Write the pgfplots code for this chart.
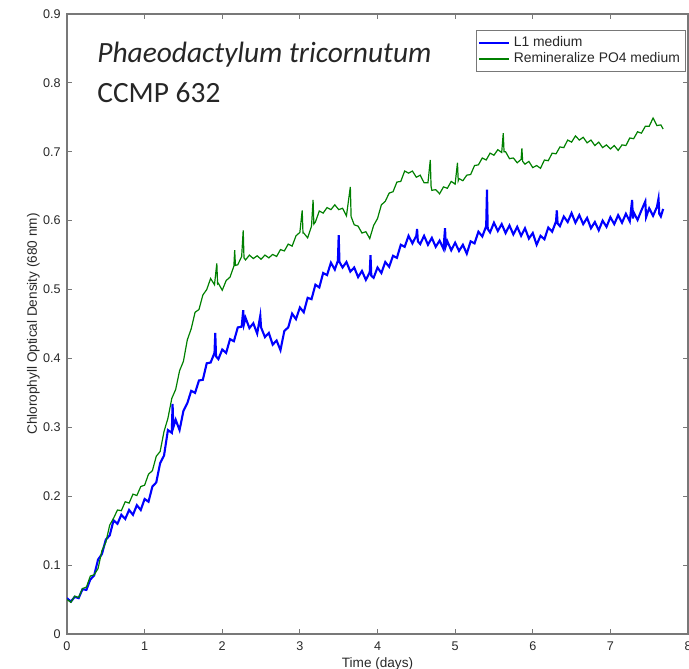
\documentclass[border=0pt]{standalone}
\usepackage{pgfplots}
\pgfplotsset{compat=1.18}
\usepackage{fontspec}
\setmainfont{Liberation Sans}
\newfontfamily\calibri{Carlito}
\definecolor{mblue}{RGB}{0,0,255}
\definecolor{mgreen}{RGB}{0,128,0}
\definecolor{axgray}{RGB}{120,120,120}
\definecolor{txtgray}{RGB}{40,40,40}
\begin{document}
\begin{tikzpicture}
\begin{axis}[
  width=310.5pt, height=310pt, scale only axis,
  xmin=0, xmax=8, ymin=0, ymax=0.9,
  xtick={0,1,...,8}, ytick={0,0.1,...,0.9},
  tick align=inside, major tick length=2.5pt,
  axis line style={axgray, line width=0.7pt},
  tick style={axgray, line width=0.5pt},
  /pgf/number format/assume math mode=true,
  /pgf/number format/fixed, /pgf/number format/precision=1,
  ticklabel style={font=\fontsize{6.3}{7.5}\selectfont, text=txtgray},
  yticklabel style={inner sep=0pt, xshift=-3pt},
  xticklabel style={inner sep=0pt, yshift=-3.5pt},
  xlabel={Time (days)},
  ylabel={Chlorophyll Optical Density (680 nm)},
  label style={font=\fontsize{6.8}{8}\selectfont, text=txtgray, inner sep=0pt},
  xlabel style={at={(axis description cs:0.5,-0.037)}, anchor=north},
  ylabel style={at={(axis description cs:-0.0435,0.5)}, anchor=south, rotate=0},
  legend style={at={(1,1)}, anchor=north east, xshift=-1pt, yshift=-8pt,
    font=\fontsize{6.95}{7.5}\selectfont, draw=axgray, line width=0.5pt,
    inner sep=0.8pt, row sep=-2.3pt, text=txtgray},
  legend cell align=left,
  legend image code/.code={\draw[#1, line width=1pt] (0pt,0pt) -- (15pt,0pt);},
]
\addplot[mblue, line width=1.05pt] coordinates {
(0.00,0.052)(0.05,0.047)(0.10,0.054)(0.15,0.052)(0.20,0.065)(0.25,0.064)(0.30,0.079)(0.35,0.085)(0.40,0.108)(0.45,0.116)
(0.50,0.137)(0.55,0.143)(0.60,0.165)(0.65,0.160)(0.70,0.173)(0.75,0.167)(0.80,0.180)(0.85,0.173)(0.90,0.187)(0.95,0.180)
(1.00,0.196)(1.05,0.192)(1.10,0.214)(1.15,0.220)(1.20,0.248)(1.25,0.259)(1.30,0.296)(1.35,0.292)(1.36,0.334)(1.37,0.300)(1.40,0.311)(1.45,0.296)
(1.50,0.324)(1.55,0.335)(1.60,0.353)(1.65,0.350)(1.70,0.368)(1.75,0.369)(1.80,0.393)(1.85,0.394)(1.90,0.408)(1.91,0.437)(1.92,0.403)(1.95,0.399)
(2.00,0.413)(2.05,0.408)(2.10,0.428)(2.15,0.425)(2.20,0.445)(2.25,0.446)(2.27,0.470)(2.28,0.450)(2.30,0.459)(2.35,0.444)(2.40,0.451)(2.45,0.436)(2.49,0.462)(2.50,0.445)
(2.55,0.431)(2.60,0.437)(2.65,0.420)(2.70,0.426)(2.75,0.412)(2.80,0.440)(2.85,0.445)(2.90,0.465)(2.95,0.457)
(3.00,0.474)(3.05,0.467)(3.10,0.488)(3.15,0.486)(3.20,0.507)(3.25,0.503)(3.30,0.524)(3.35,0.521)(3.40,0.539)(3.45,0.529)
(3.49,0.542)(3.50,0.579)(3.51,0.540)(3.55,0.532)(3.60,0.540)(3.65,0.526)(3.70,0.532)(3.75,0.518)(3.80,0.527)(3.85,0.514)(3.90,0.525)(3.91,0.550)(3.92,0.520)(3.95,0.517)
(4.00,0.532)(4.05,0.524)(4.10,0.540)(4.15,0.533)(4.20,0.549)(4.25,0.546)(4.30,0.565)(4.35,0.562)(4.40,0.578)(4.45,0.567)
(4.50,0.578)(4.51,0.588)(4.52,0.570)(4.55,0.566)(4.60,0.578)(4.65,0.565)(4.70,0.575)(4.75,0.562)(4.80,0.571)(4.85,0.559)(4.87,0.589)(4.88,0.563)(4.90,0.570)(4.95,0.557)
(5.00,0.568)(5.05,0.556)(5.10,0.565)(5.15,0.552)(5.20,0.570)(5.25,0.567)(5.30,0.584)(5.35,0.577)(5.40,0.592)(5.41,0.645)(5.42,0.588)(5.45,0.583)
(5.50,0.597)(5.55,0.585)(5.60,0.595)(5.65,0.582)(5.70,0.593)(5.75,0.580)(5.80,0.591)(5.85,0.578)(5.90,0.589)(5.95,0.574)
(6.00,0.582)(6.05,0.565)(6.10,0.578)(6.15,0.573)(6.20,0.590)(6.25,0.584)(6.30,0.599)(6.31,0.615)(6.32,0.596)(6.35,0.592)(6.40,0.606)(6.45,0.598)
(6.50,0.611)(6.55,0.597)(6.60,0.608)(6.65,0.595)(6.70,0.604)(6.75,0.589)(6.80,0.598)(6.85,0.586)(6.90,0.600)(6.95,0.591)
(7.00,0.605)(7.05,0.595)(7.10,0.608)(7.15,0.597)(7.20,0.610)(7.25,0.599)(7.28,0.630)(7.29,0.603)(7.30,0.612)(7.35,0.601)(7.40,0.615)(7.45,0.628)(7.46,0.605)
(7.50,0.618)(7.55,0.607)(7.60,0.620)(7.62,0.632)(7.63,0.610)(7.65,0.606)(7.68,0.617)
};
\addlegendentry{L1 medium}
\addplot[mgreen, line width=0.6pt] coordinates {
(0.00,0.050)(0.05,0.046)(0.10,0.055)(0.15,0.053)(0.20,0.066)(0.25,0.068)(0.30,0.084)(0.35,0.086)(0.40,0.095)(0.45,0.121)
(0.50,0.133)(0.55,0.158)(0.60,0.168)(0.65,0.180)(0.70,0.179)(0.75,0.192)(0.80,0.190)(0.85,0.203)(0.90,0.201)(0.95,0.214)
(1.00,0.216)(1.05,0.232)(1.10,0.237)(1.15,0.258)(1.20,0.265)(1.25,0.294)(1.30,0.313)(1.35,0.342)(1.40,0.355)(1.45,0.382)
(1.50,0.396)(1.55,0.427)(1.60,0.443)(1.65,0.467)(1.70,0.471)(1.75,0.492)(1.80,0.500)(1.85,0.516)(1.90,0.507)(1.93,0.538)(1.94,0.508)(1.95,0.509)
(2.00,0.499)(2.05,0.513)(2.10,0.518)(2.15,0.534)(2.16,0.557)(2.17,0.535)(2.20,0.536)(2.25,0.548)(2.27,0.586)(2.28,0.546)(2.30,0.543)(2.35,0.550)(2.40,0.545)(2.45,0.549)
(2.50,0.544)(2.55,0.550)(2.60,0.546)(2.65,0.551)(2.70,0.548)(2.75,0.558)(2.80,0.556)(2.85,0.566)(2.90,0.563)(2.95,0.578)
(3.00,0.583)(3.03,0.615)(3.04,0.582)(3.05,0.582)(3.10,0.575)(3.15,0.592)(3.17,0.630)(3.18,0.595)(3.20,0.598)(3.25,0.614)(3.30,0.611)(3.35,0.619)(3.40,0.616)(3.45,0.623)
(3.50,0.616)(3.55,0.618)(3.60,0.607)(3.65,0.649)(3.66,0.606)(3.70,0.594)(3.75,0.592)(3.80,0.582)(3.85,0.584)(3.90,0.574)(3.95,0.593)
(4.00,0.603)(4.05,0.623)(4.10,0.628)(4.15,0.640)(4.20,0.642)(4.25,0.656)(4.30,0.657)(4.35,0.672)(4.40,0.669)(4.45,0.672)
(4.50,0.663)(4.55,0.666)(4.60,0.655)(4.65,0.655)(4.68,0.688)(4.69,0.650)(4.70,0.644)(4.75,0.645)(4.80,0.639)(4.85,0.649)(4.90,0.647)(4.95,0.657)
(5.00,0.653)(5.03,0.684)(5.04,0.658)(5.05,0.661)(5.10,0.658)(5.15,0.666)(5.20,0.667)(5.25,0.680)(5.30,0.681)(5.35,0.691)(5.40,0.688)(5.45,0.698)
(5.50,0.695)(5.55,0.703)(5.60,0.699)(5.62,0.727)(5.63,0.700)(5.65,0.700)(5.70,0.690)(5.75,0.691)(5.80,0.684)(5.85,0.689)(5.86,0.705)(5.87,0.686)(5.90,0.682)(5.95,0.686)
(6.00,0.677)(6.05,0.680)(6.10,0.676)(6.15,0.688)(6.20,0.687)(6.25,0.698)(6.30,0.697)(6.35,0.707)(6.40,0.706)(6.45,0.717)
(6.50,0.714)(6.55,0.723)(6.60,0.717)(6.65,0.721)(6.70,0.713)(6.75,0.717)(6.80,0.709)(6.85,0.714)(6.90,0.706)(6.95,0.710)
(7.00,0.704)(7.05,0.709)(7.10,0.702)(7.15,0.710)(7.20,0.709)(7.25,0.720)(7.30,0.719)(7.35,0.729)(7.40,0.727)(7.45,0.737)
(7.50,0.737)(7.55,0.749)(7.60,0.738)(7.65,0.739)(7.68,0.733)
};
\addlegendentry{Remineralize PO4 medium}
\node[anchor=base west, font=\calibri\itshape\fontsize{14.7}{18}\selectfont, inner sep=0pt, text=black!85] at (rel axis cs:0.0483,0.921) {Phaeodactylum tricornutum};
\node[anchor=base west, font=\calibri\fontsize{14.7}{18}\selectfont, inner sep=0pt, text=black!85] at (rel axis cs:0.0483,0.858) {CCMP 632};
\coordinate (sw) at (rel axis cs:0,0);
\coordinate (ne) at (rel axis cs:1,1);
\end{axis}
\pgfresetboundingbox
\path ([xshift=-33.5pt,yshift=-17.5pt]sw) rectangle ([xshift=0.5pt,yshift=7pt]ne);
\end{tikzpicture}
\end{document}
